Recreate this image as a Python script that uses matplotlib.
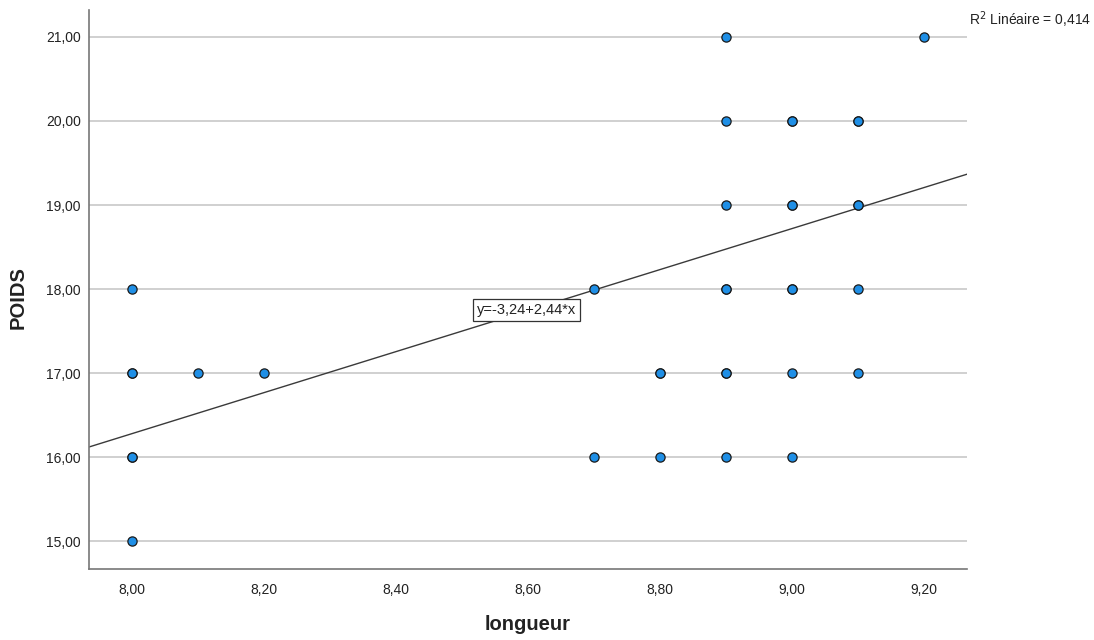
import matplotlib
matplotlib.use("Agg")
import matplotlib.pyplot as plt
import numpy as np

plt.rcParams['font.family'] = ['Liberation Sans', 'DejaVu Sans']

# Data (duplicates indicated by darker outlines in reference)
longueur = [8.0, 8.0, 8.0, 8.0, 8.0, 8.0, 8.1, 8.2,
            8.7, 8.7, 8.8, 8.8, 8.8,
            8.9, 8.9, 8.9, 8.9, 8.9, 8.9, 8.9, 8.9,
            9.0, 9.0, 9.0, 9.0, 9.0, 9.0, 9.0, 9.0,
            9.1, 9.1, 9.1, 9.1, 9.1, 9.1, 9.2]
poids = [18, 17, 17, 16, 16, 15, 17, 17,
         18, 16, 17, 17, 16,
         21, 20, 19, 18, 18, 17, 17, 16,
         20, 20, 19, 19, 18, 18, 17, 16,
         20, 20, 19, 19, 18, 17, 21]
intercept = -3.24
slope = 2.44
r2_text = "R$^2$ Linéaire = 0,414"
eq_text = "y=-3,24+2,44*x"
xticks = [8.0, 8.2, 8.4, 8.6, 8.8, 9.0, 9.2]
yticks = [15, 16, 17, 18, 19, 20, 21]

def fr(v):
    return f"{v:.2f}".replace('.', ',')

fig = plt.figure(figsize=(10.94, 6.40), dpi=100)
ax = fig.add_axes([89/1094, 1-569/640, (967-89)/1094, (569-10)/640])

xmin, xmax = 7.935, 9.265
ymin, ymax = 14.67, 21.32
ax.set_xlim(xmin, xmax)
ax.set_ylim(ymin, ymax)

for y in yticks:
    ax.axhline(y, color='#c8c8c8', lw=1.2, zorder=0)

xl = np.array([xmin, xmax])
ax.plot(xl, intercept + slope * xl, color='#3a3a3a', lw=1.0, zorder=2)

ax.scatter(longueur, poids, s=44, facecolor='#1f8fe6', edgecolor='#1a1a1a',
           linewidth=0.9, zorder=3, alpha=1.0)

ax.text(8.598, 17.75, eq_text, ha='center', va='center', fontsize=10.5,
        color='#222222', zorder=4,
        bbox=dict(boxstyle='square,pad=0.25', facecolor='white', edgecolor='#333333', lw=0.9))

ax.set_xticks(xticks)
ax.set_xticklabels([fr(v) for v in xticks])
ax.set_yticks(yticks)
ax.set_yticklabels([fr(v) for v in yticks])
ax.tick_params(length=0, labelsize=10, colors='#222222')
ax.tick_params(axis='y', pad=6)
ax.tick_params(axis='x', pad=10)

for s in ['top', 'right']:
    ax.spines[s].set_visible(False)
for s in ['left', 'bottom']:
    ax.spines[s].set_color('#777777')
    ax.spines[s].set_linewidth(1.2)

ax.set_xlabel('longueur', fontsize=14.5, fontweight='bold', color='#222222')
ax.set_ylabel('POIDS', fontsize=14.5, fontweight='bold', color='#222222')
ax.xaxis.set_label_coords(0.5, (569-625)/559, transform=ax.transAxes)
ax.yaxis.set_label_coords((18-89)/878, (569-298)/559)
ax.xaxis.label.set_va('center')
ax.yaxis.label.set_va('center')

fig.text(969/1094, 1-20/640, r2_text, fontsize=10, ha='left', va='center', color='#222222')

fig.savefig('out.png', dpi=100)
